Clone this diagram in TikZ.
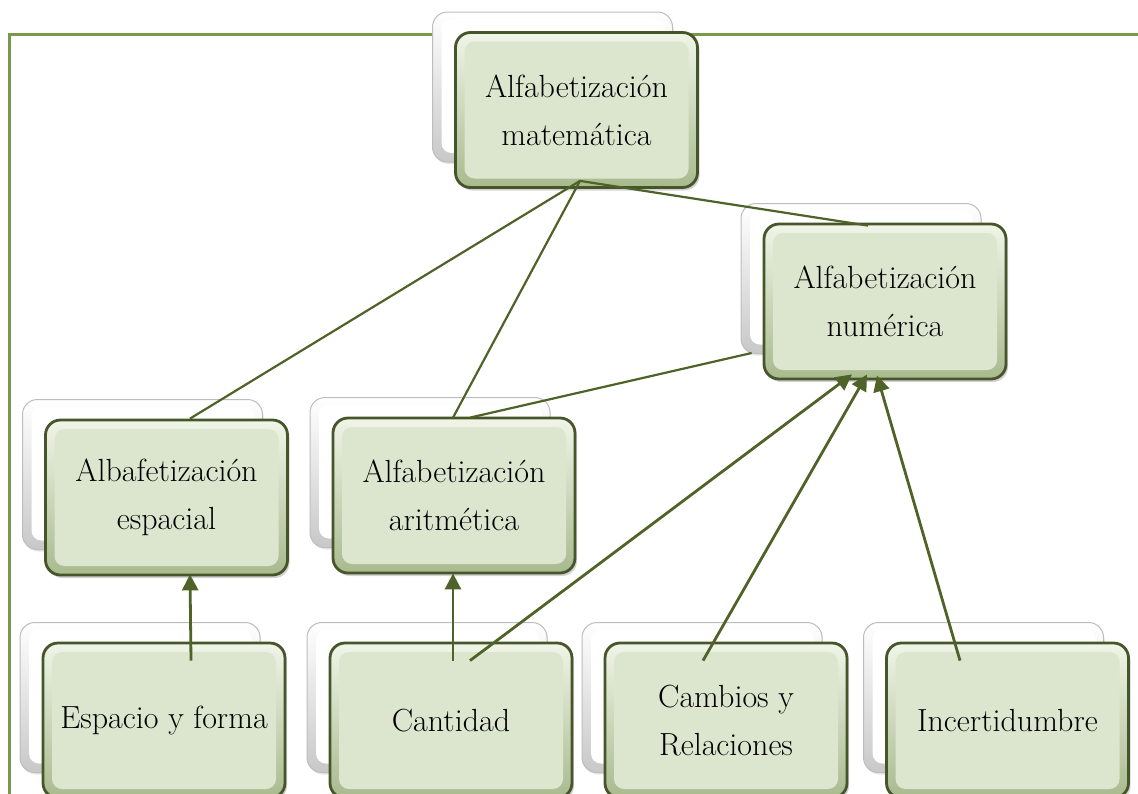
\documentclass[tikz,border=0pt]{standalone}
\usetikzlibrary{arrows.meta,calc,shadows}

\definecolor{framegreen}{HTML}{7A9848}
\definecolor{linkgreen}{HTML}{4F6228}
\definecolor{boxedge}{HTML}{46552A}
\definecolor{boxtop}{HTML}{F0F5E8}
\definecolor{boxbot}{HTML}{A9BA8E}
\definecolor{boxin}{HTML}{DCE6CF}
\definecolor{ghostedge}{HTML}{BDBDBD}
\definecolor{ghostbot}{HTML}{C8C8C8}

\tikzset{
  frontbox/.style={
    rounded corners=15pt, draw=boxedge, line width=2.8pt,
    top color=boxtop, bottom color=boxbot,
    minimum width=242pt, minimum height=155pt,
    inner sep=0pt, align=center,
    font=\fontsize{32}{48}\selectfont,
    drop shadow={opacity=0.35, shadow xshift=2pt, shadow yshift=-3pt},
    path picture={
      \fill[boxin, rounded corners=10pt]
        ([shift={(9pt,9pt)}]path picture bounding box.south west) rectangle
        ([shift={(-9pt,-9pt)}]path picture bounding box.north east);
    }
  },
  backbox/.style={
    rounded corners=15pt, draw=ghostedge, line width=1pt,
    top color=white, bottom color=ghostbot,
    minimum width=240pt, minimum height=150pt, inner sep=0pt,
    drop shadow={opacity=0.2, shadow xshift=1pt, shadow yshift=-2pt},
    path picture={
      \fill[white, rounded corners=10pt]
        ([shift={(9pt,9pt)}]path picture bounding box.south west) rectangle
        ([shift={(-8pt,-7pt)}]path picture bounding box.north east);
    }
  },
  link/.style={draw=linkgreen, line width=2.2pt},
  arrowlink/.style={draw=linkgreen, line width=2.8pt, -{Triangle[length=16pt,width=16pt]}},
  frameline/.style={draw=framegreen, line width=3pt}
}

\begin{document}
\begin{tikzpicture}[x=1pt, y=-1pt]
  \useasboundingbox (0,0) rectangle (1138,793);
  \clip (0,0) rectangle (1138,793);

  % page frame
  \draw[frameline] (1140,34) -- (9,34) -- (9,800);

  % ghost boxes behind each entry
  \node[backbox] (mat-b) at (552.5,87)  {};
  \node[backbox] (num-b) at (861,278.5) {};
  \node[backbox] (esp-b) at (142.5,474.5) {};
  \node[backbox] (ari-b) at (430,472.5) {};
  \node[backbox] (eyf-b) at (140,697.5) {};
  \node[backbox] (can-b) at (427,697.5) {};
  \node[backbox] (cam-b) at (702,697.5) {};
  \node[backbox] (inc-b) at (983.5,697.5) {};

  % main entries
  \node[frontbox] (mat) at (576.5,110)   {Alfabetización\\matemática};
  \node[frontbox] (num) at (885,301.5)   {Alfabetización\\numérica};
  \node[frontbox] (esp) at (166.5,497.5) {Albafetización\\espacial};
  \node[frontbox] (ari) at (454,495.5)   {Alfabetización\\aritmética};
  \node[frontbox] (eyf) at (164,720.5)   {Espacio y forma};
  \node[frontbox] (can) at (451,720.5)   {Cantidad};
  \node[frontbox] (cam) at (726,720.5)   {Cambios y\\Relaciones};
  \node[frontbox] (inc) at (1007.5,720.5){Incertidumbre};

  % hierarchy lines
  \coordinate (mat-root) at ($(mat.south)+(3.5,-8)$);
  \draw[link] (mat-root) -- ($(esp.north)+(23.5,0)$);
  \draw[link] (mat-root) -- ($(ari.north)+(-1,1)$);
  \draw[link] (mat-root) -- ($(num.north)+(-17,3)$);
  \draw[link] ($(num.west)+(-11,51.5)$) -- ($(ari.north)+(16,1)$);

  % arrows from the bottom row
  \draw[arrowlink] ($(eyf.north)+(27,19)$) -- ($(esp.south)+(23.5,-2)$);
  \draw[arrowlink] ($(can.north)+(2,19)$) -- ($(ari.south)+(-1,-1)$);
  \draw[arrowlink] ($(can.north)+(19,19)$) -- ($(num.south)+(-33,-6)$);
  \draw[arrowlink] ($(cam.north)+(-23,19)$) -- ($(num.south)+(-18,-6)$);
  \draw[arrowlink] ($(inc.north)+(-47.5,19)$) -- ($(num.south)+(-8,-5)$);
\end{tikzpicture}
\end{document}
